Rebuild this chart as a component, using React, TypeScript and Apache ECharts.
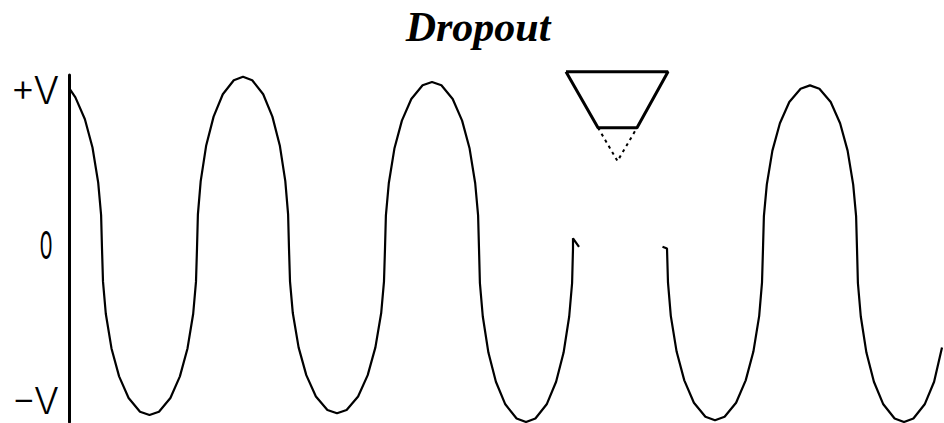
import React, { useEffect, useRef } from "react";
import * as echarts from "echarts";

// Digitised waveform: [time, voltage] with voltage in units of V (+1 = +V, -1 = -V)
const waveBefore: [number, number][] = [
  [1, 0.917], [6.4, 0.871], [15.9, 0.745], [23.5, 0.582], [29.2, 0.38], [32.1, 0.193], [33, 0],
  [34, -0.191], [36.8, -0.376], [42.5, -0.576], [50.1, -0.737], [59.6, -0.862], [71, -0.941], [80.5, -0.96],
  [90, -0.941], [101.4, -0.862], [110.9, -0.737], [118.5, -0.576], [124.2, -0.376], [127, -0.191], [128, 0],
  [128.9, 0.197], [131.7, 0.388], [137.2, 0.594], [144.6, 0.76], [153.8, 0.889], [164.8, 0.97], [174, 0.99],
  [183.2, 0.97], [194.2, 0.889], [203.4, 0.76], [210.8, 0.594], [216.3, 0.388], [219.1, 0.197], [220, 0],
  [221, -0.189], [223.8, -0.372], [229.6, -0.57], [237.3, -0.73], [246.9, -0.853], [258.4, -0.931], [268, -0.95],
  [277.6, -0.931], [289.1, -0.853], [298.7, -0.73], [306.4, -0.57], [312.2, -0.372], [315, -0.189], [316, 0],
  [316.9, 0.191], [319.8, 0.376], [325.4, 0.576], [332.9, 0.737], [342.3, 0.862], [353.6, 0.941], [363, 0.96],
  [372.4, 0.941], [383.7, 0.862], [393.1, 0.737], [400.6, 0.576], [406.2, 0.376], [409.1, 0.191], [410, 0],
  [410.9, -0.199], [413.8, -0.392], [419.4, -0.6], [426.9, -0.768], [436.3, -0.898], [447.6, -0.98], [457, -1.0],
  [466.4, -0.98], [477.7, -0.898], [487.1, -0.768], [494.6, -0.6], [500.2, -0.392], [503.1, -0.199], [504, 0],
  [504, 0.059], [510, 0.01],
];

const waveAfter: [number, number][] = [
  [593.5, 0.01], [598, 0],
  [599, -0.197], [601.8, -0.388], [607.6, -0.594], [615.3, -0.76], [624.9, -0.889], [636.4, -0.97], [646, -0.99],
  [655.6, -0.97], [667.1, -0.889], [676.7, -0.76], [684.4, -0.594], [690.2, -0.388], [693, -0.197], [694, 0],
  [694.9, 0.187], [697.8, 0.368], [703.4, 0.564], [710.9, 0.722], [720.3, 0.844], [731.6, 0.921], [741, 0.94],
  [750.4, 0.921], [761.7, 0.844], [771.1, 0.722], [778.6, 0.564], [784.2, 0.368], [787.1, 0.187], [788, 0],
  [788.9, -0.199], [791.8, -0.392], [797.4, -0.6], [804.9, -0.768], [814.3, -0.898], [825.6, -0.98], [835, -1.0],
  [844.4, -0.98], [855.7, -0.898], [865.1, -0.768], [873, -0.57],
];

// Dropout marker (inverted triangle) in the same data space
const markerUpper: [number, number][] = [
  [497, 1.019], [529, 0.696], [568, 0.696], [599, 1.019], [497, 1.019],
];
const markerLower: [number, number][] = [
  [529, 0.696], [548.5, 0.504], [568, 0.696],
];

const titleText = "Dropout";
const yTickLabels = ["+V", "0", "\u2212V"];

export default function App() {
  const ref = useRef<HTMLDivElement>(null);

  useEffect(() => {
    if (!ref.current) return;
    const chart = echarts.init(ref.current, null, { renderer: "svg" });
    const labelFont = '300 38px Inter, "DejaVu Sans", sans-serif';
    const bottomFont = '300 37px Inter, "DejaVu Sans", sans-serif';
    const zeroFont = '400 38px Inter, "DejaVu Sans", sans-serif';
    chart.setOption({
      animation: false,
      backgroundColor: "#ffffff",
      grid: { left: 69, right: 0, top: 75, bottom: 1, containLabel: false },
      xAxis: {
        type: "value",
        min: 0,
        max: 875,
        show: false,
      },
      yAxis: {
        type: "value",
        min: -1,
        max: 1,
        axisLine: { show: true, lineStyle: { color: "#000", width: 3 } },
        axisTick: { show: false },
        axisLabel: { show: false },
        splitLine: { show: false },
      },
      graphic: [
        {
          type: "text",
          x: 478,
          y: 27,
          style: {
            text: titleText,
            font: 'italic bold 42px "Liberation Serif", "Times New Roman", serif',
            fill: "#000",
            textAlign: "center",
            align: "center",
            textVerticalAlign: "middle",
            verticalAlign: "middle",
          },
        },
        {
          type: "text",
          x: 59,
          y: 90,
          style: {
            text: yTickLabels[0],
            font: labelFont,
            fill: "#000",
            textAlign: "right",
            align: "right",
            textVerticalAlign: "middle",
            verticalAlign: "middle",
          },
        },
        {
          type: "text",
          x: 46,
          y: 245,
          scaleX: 0.55,
          style: {
            text: yTickLabels[1],
            font: zeroFont,
            fill: "#000",
            textAlign: "center",
            align: "center",
            textVerticalAlign: "middle",
            verticalAlign: "middle",
          },
        },
        {
          type: "text",
          x: 59,
          y: 400,
          style: {
            text: yTickLabels[2],
            font: bottomFont,
            fill: "#000",
            textAlign: "right",
            align: "right",
            textVerticalAlign: "middle",
            verticalAlign: "middle",
          },
        },
      ],
      series: [
        {
          type: "line",
          data: waveBefore,
          symbol: "none",
          clip: false,
          silent: true,
          lineStyle: { color: "#000", width: 2.2 },
        },
        {
          type: "line",
          data: waveAfter,
          symbol: "none",
          clip: false,
          silent: true,
          lineStyle: { color: "#000", width: 2.2 },
        },
        {
          type: "line",
          data: markerUpper,
          symbol: "none",
          clip: false,
          silent: true,
          lineStyle: { color: "#000", width: 3 },
        },
        {
          type: "line",
          data: markerLower,
          symbol: "none",
          clip: false,
          silent: true,
          lineStyle: { color: "#000", width: 2, type: [3, 4] },
        },
      ],
    });
    return () => chart.dispose();
  }, []);

  return (
    <div
      ref={ref}
      style={{ position: "fixed", left: 0, top: 0, width: 944, height: 423, background: "#fff" }}
    />
  );
}
